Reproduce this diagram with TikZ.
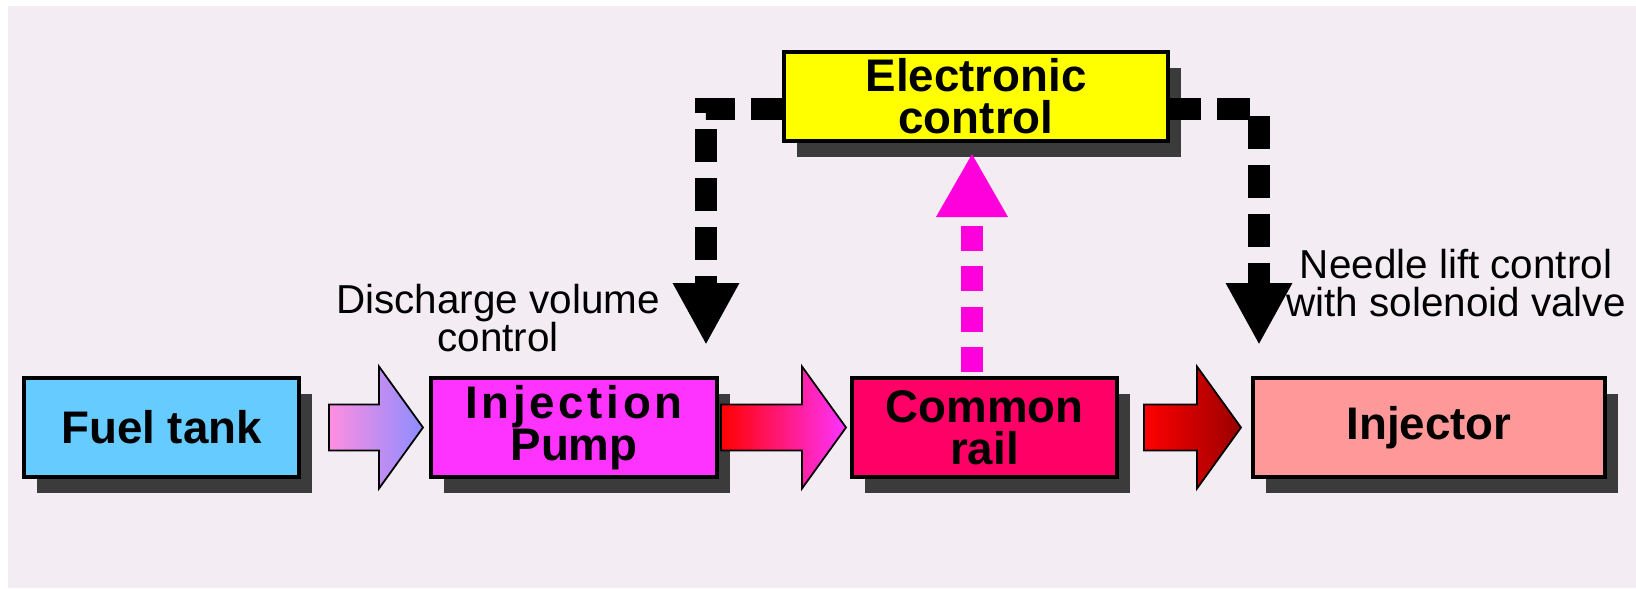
\documentclass[tikz,border=0pt]{standalone}
\usepackage{fontspec}
\setmainfont{Liberation Sans}
\usepackage{tikz}
\usetikzlibrary{arrows.meta,calc,positioning,shadows}
\definecolor{bgpink}{RGB}{243,236,243}
\definecolor{tankblue}{RGB}{102,204,255}
\definecolor{pumpmag}{RGB}{255,51,255}
\definecolor{railred}{RGB}{255,0,102}
\definecolor{injpink}{RGB}{255,153,153}
\definecolor{ctlyellow}{RGB}{255,255,0}
\definecolor{sigmag}{RGB}{255,0,221}
% fat flow arrow between two points (same height)
\newcommand{\fatarrow}[4]{%
  \shade[left color=#3,right color=#4,draw=black,line width=0.5pt]
    let \p1=#1, \p2=#2 in
    (\x1,\y1+0.23cm) -- (\x2-0.44cm,\y1+0.23cm) -- (\x2-0.44cm,\y1+0.61cm)
    -- (\x2,\y1) -- (\x2-0.44cm,\y1-0.61cm) -- (\x2-0.44cm,\y1-0.23cm)
    -- (\x1,\y1-0.23cm) -- cycle;}

\begin{document}
\begin{tikzpicture}[font=\bfseries\fontsize{13}{12}\selectfont,
  box/.style={draw,line width=1.2pt,align=center,minimum height=0.99cm,inner sep=0pt,outer sep=0pt,
    drop shadow={shadow xshift=0.13cm,shadow yshift=-0.16cm,opacity=0.75,fill=black}},
  lbl/.style={align=center,font=\fontsize{11.5}{11}\selectfont},
  ctlline/.style={line width=0.22cm,dash pattern=on 0.33cm off 0.16cm,
    -{Triangle[width=0.62cm,length=0.62cm]}},
  sigline/.style={sigmag,line width=0.22cm,dash pattern=on 0.25cm off 0.155cm,
    -{Triangle[width=0.67cm,length=0.64cm]}}]
  \useasboundingbox (0,0) rectangle (16.36,5.88);
  \fill[white] (0,0) rectangle (16.36,5.88);
  \fill[bgpink] (0.08,0) rectangle (16.36,5.82);

  \node[box,fill=tankblue,minimum width=2.75cm] (tank) at (1.615,1.605) {Fuel tank};
  \node[box,fill=pumpmag,minimum width=2.86cm,right=1.32cm of tank] (pump)
    {{\addfontfeature{LetterSpace=8}Injection}\\Pump};
  \node[box,fill=railred,minimum width=2.65cm,right=1.35cm of pump] (rail) {Common\\rail};
  \node[box,fill=injpink,minimum width=3.52cm,right=1.36cm of rail] (inj) {Injector};
  \node[box,fill=ctlyellow,minimum width=3.84cm,minimum height=0.89cm,
    font=\bfseries\fontsize{13}{12}\selectfont] (ctrl) at (9.76,4.915) {Electronic\\control};

  \node[lbl] (dvc) at (4.98,2.70) {Discharge volume\\control};
  \node[lbl] (nlc) at (14.56,3.05) {Needle lift control\\with solenoid valve};
  \coordinate (dv) at (7.06,2.43);
  \coordinate (nl) at (12.59,2.43);
  \coordinate (mg) at ($(ctrl.south)+(-0.04,-0.12)$);

  \fatarrow{($(tank.east)+(0.30,0)$)}{($(pump.west)+(-0.08,0)$)}{pink!60!magenta!80}{blue!45!white}
  \fatarrow{($(pump.east)+(0.04,0)$)}{($(rail.west)+(-0.06,0)$)}{red!100!pink}{pumpmag}
  \fatarrow{($(rail.east)+(0.27,0)$)}{($(inj.west)+(-0.12,0)$)}{red!100!pink}{red!60!black}

  \draw[ctlline] ($(ctrl.west)+(0,-0.125)$) -| (dv);
  \draw[ctlline] ($(ctrl.east)+(0,-0.125)$) -| (nl);
  \draw[sigline] ($(rail.north -| mg)+(0,0.06)$) -- (mg);
\end{tikzpicture}
\end{document}
